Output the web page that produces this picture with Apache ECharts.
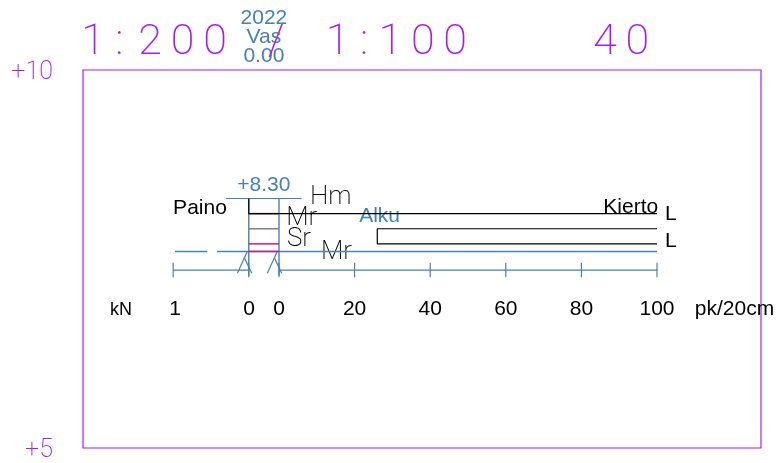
<!DOCTYPE html>
<html><head><meta charset="utf-8">
<style>html,body{margin:0;padding:0;background:#fff}#c{width:776px;height:463px}</style>
<script src="https://cdn.jsdelivr.net/npm/echarts@6/dist/echarts.min.js"></script>
</head><body><div id="c"></div>
<script>
// Chart values: x in pk/20cm units, y in level units
const levelTicks = [5, 10];
const pkTicks = [0, 20, 40, 60, 80, 100];
const kNTicks = [-28, -8];
const scaleLabels = [['1',-27.5],['0',-7.9],['0',0],['20',20],['40',40],['60',60],['80',80],['100',100]];
const topLevel = 8.30;
const layerLevels = [8.10, 7.90, 7.70, 7.60];
const layerColors = ['#50104f', '#8a7a8a', '#c0208f', '#c0208f'];
const columnLeft = -8, columnRight = 0;
const axisLevel = 7.354;
const blueBase = [[-27.5,7.6],[-19,7.6],null,[-16.4,7.6],[-8,7.6],[100,7.6]];
const kiertoLine = [[-8,8.3],[-8,8.1],[100,8.1]];
const alkuBox = [[100,7.9],[26,7.9],[26,7.7],[100,7.7]];
const marks = [[[-11,7.31],[-8.4,7.6]],[[-9.2,7.52],[-7.2,7.31]],[[-3.1,7.31],[-0.45,7.6]],[[-1.25,7.52],[0.7,7.31]]];

const PURPLE='#a61ff2', BLUE='#4682b4', BLACK='#000';
const SANS='"Liberation Sans",Arial,sans-serif', THIN='Roboto,Inter,sans-serif';

function lineS(data,color,w){return {type:'line',data,showSymbol:false,symbol:'none',silent:true,animation:false,clip:false,connectNulls:false,lineStyle:{color,width:w||1}};}
function textS(items,color,size,family,weight){
  return {type:'scatter',symbolSize:0,silent:true,animation:false,clip:false,itemStyle:{opacity:1},
    data:items.map(t=>({value:[t[1],t[2]],itemStyle:{opacity:1},label:{show:true,position:'inside',formatter:t[0],align:t[3]||'center',verticalAlign:'middle',
      color,opacity:1,fontSize:size,fontFamily:family,fontWeight:weight||'normal'}}))};
}
const series=[];
// blue structure
series.push(lineS(blueBase,BLUE,1.4));
series.push(lineS([[-14,topLevel],[6,topLevel]],BLUE,1.2));
series.push(lineS([[columnLeft,topLevel],[columnLeft,7.28]],BLUE,1.4));
series.push(lineS([[columnRight,topLevel],[columnRight,7.28]],BLUE,1.4));
series.push(lineS([[-28,axisLevel],[-8,axisLevel],null,[0,axisLevel],[100,axisLevel]],BLUE,1.2));
kNTicks.concat(pkTicks).forEach(x=>series.push(lineS([[x,axisLevel+0.095],[x,axisLevel-0.095]],BLUE,1.2)));
marks.forEach(m=>series.push(lineS(m,BLUE,1.2)));
// layers
layerLevels.forEach((l,i)=>series.push(lineS([[columnLeft,l],[columnRight,l]],layerColors[i],1.5)));
// black lines
series.push(lineS(kiertoLine,BLACK,1.2));
series.push(lineS(alkuBox,BLACK,1.2));
// text
series.push(textS([['2022',-4,10.69],['Vas',-4,10.43],['0.00',-4,10.18],['+8.30',-4,8.48],['Alku',21.2,8.07,'left']],BLUE,21,SANS));
series.push(textS([['Paino',-13.8,8.17,'right'],['Kierto',100.3,8.19,'right']],BLACK,21,SANS));
series.push(textS(scaleLabels.map(l=>[l[0],l[1],6.83]).concat([['pk/20cm',110,6.83,'left']]),BLACK,21,SANS));
series.push(textS([['kN',-41.8,6.83]],BLACK,18,SANS));
series.push(textS([['1 : \u200a2\u20090\u20090',-52.3,10.35,'left'],['/',-0.8,10.35],['1 : 1\u20090\u20090',12.4,10.35,'left'],['4\u20090',83.1,10.35,'left']],PURPLE,43,THIN,200));
series.push(textS([['Hm',8.2,8.31,'left'],['Mr',1.9,8.04,'left'],['Sr',2.1,7.76,'left'],['Mr',11.1,7.58,'left']],BLACK,26,THIN,200));
series.push(textS([['L',102.1,8.09,'left'],['L',102.1,7.74,'left']],BLACK,21,SANS));
series.push(textS(levelTicks.map(v=>['+'+v,-59.8,v-0.04,'right']),PURPLE,25,THIN,200));

const chart=echarts.init(document.getElementById('c'),null,{renderer:'canvas'});
chart.setOption({
  animation:false,
  grid:{left:83,top:70,width:678,height:378,show:true,borderColor:PURPLE,borderWidth:1.2,backgroundColor:'transparent'},
  xAxis:{type:'value',min:-51.85,max:127.51,show:false},
  yAxis:{type:'value',min:levelTicks[0],max:levelTicks[1],interval:5,axisLine:{show:false},axisTick:{show:false},splitLine:{show:false},axisLabel:{show:false}},
  series
});
</script></body></html>
